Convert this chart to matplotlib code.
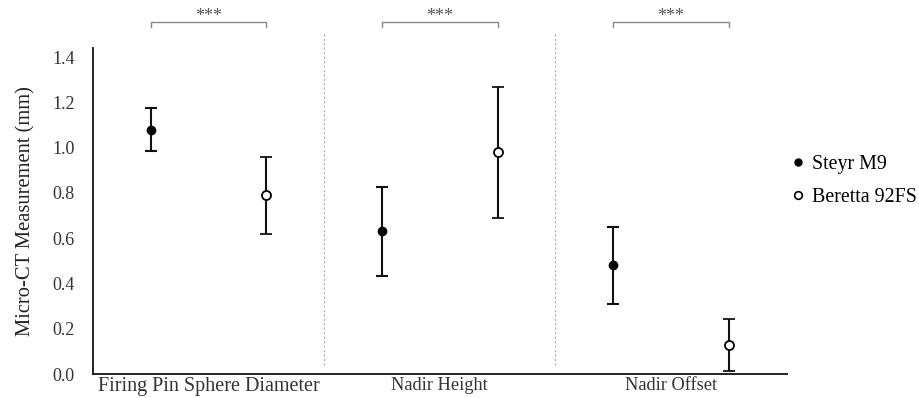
import matplotlib.pyplot as plt
from matplotlib.lines import Line2D

# values
categories = ["Firing Pin Sphere Diameter", "Nadir Height", "Nadir Offset"]
series = ["Steyr M9", "Beretta 92FS"]
steyr_mean = [1.08, 0.63, 0.48]
steyr_err = [0.095, 0.195, 0.17]
beretta_mean = [0.79, 0.98, 0.13]
beretta_err = [0.17, 0.29, 0.115]
sig_labels = ["***", "***", "***"]
yticks = [0.0, 0.2, 0.4, 0.6, 0.8, 1.0, 1.2, 1.4]

plt.rcParams["font.family"] = ["Liberation Serif", "DejaVu Serif"]

fig = plt.figure(figsize=(9.19, 3.98), dpi=100)
ax = fig.add_axes([0.101, 0.0603, 0.755, 0.819])

x_steyr = [2 * i + 0.5 for i in range(len(categories))]
x_beretta = [2 * i + 1.5 for i in range(len(categories))]

ax.errorbar(x_steyr, steyr_mean, yerr=steyr_err, fmt="o", color="#111111",
            mfc="black", mec="black", ms=6, elinewidth=1.5, capsize=4,
            capthick=1.5, zorder=3)
ax.errorbar(x_beretta, beretta_mean, yerr=beretta_err, fmt="o", color="#111111",
            mfc="white", mec="black", ms=6.5, mew=1.3, elinewidth=1.5, capsize=4,
            capthick=1.5, zorder=3)

ax.set_xlim(0, 6)
ax.set_ylim(0, 1.44)
ax.set_yticks(yticks)
ax.set_yticklabels([f"{v:.1f}" for v in yticks], fontsize=13)
ax.set_xticks([1, 3, 5])
ax.set_xticklabels(categories)
for i, lab in enumerate(ax.get_xticklabels()):
    lab.set_fontsize(14.5 if i == 0 else 13.2)
ax.tick_params(axis="both", length=0, colors="#333333")
ax.tick_params(axis="x", pad=2)
ax.tick_params(axis="y", pad=13)
ax.set_ylabel("Micro-CT Measurement (mm)", fontsize=14.8, color="#222222", labelpad=12)

for side in ["top", "right"]:
    ax.spines[side].set_visible(False)
for side in ["left", "bottom"]:
    ax.spines[side].set_linewidth(1.4)
    ax.spines[side].set_color("#222222")

# dashed separators between groups
for xs in [2, 4]:
    ax.plot([xs, xs], [0.04, 1.50], ls=(0, (2, 2)), lw=0.8, color="#aaaaaa",
            clip_on=False, zorder=1)

# significance brackets
for i, s in enumerate(sig_labels):
    x0, x1 = x_steyr[i], x_beretta[i]
    ax.plot([x0, x0, x1, x1], [1.533, 1.555, 1.555, 1.533], color="#888888",
            lw=1.0, clip_on=False)
    ax.text((x0 + x1) / 2, 1.578, s, ha="center", va="center", fontsize=13,
            color="#555555", clip_on=False)

handles = [
    Line2D([], [], ls="none", marker="o", ms=5, mfc="black", mec="black"),
    Line2D([], [], ls="none", marker="o", ms=5.5, mfc="white", mec="black", mew=1.2),
]
fig.legend(handles, series, loc="center left", bbox_to_anchor=(0.851, 0.545),
           frameon=False, fontsize=14.4, handletextpad=0.3, handlelength=0.8,
           labelspacing=0.72, borderaxespad=0)

fig.savefig("out.png", dpi=100)
